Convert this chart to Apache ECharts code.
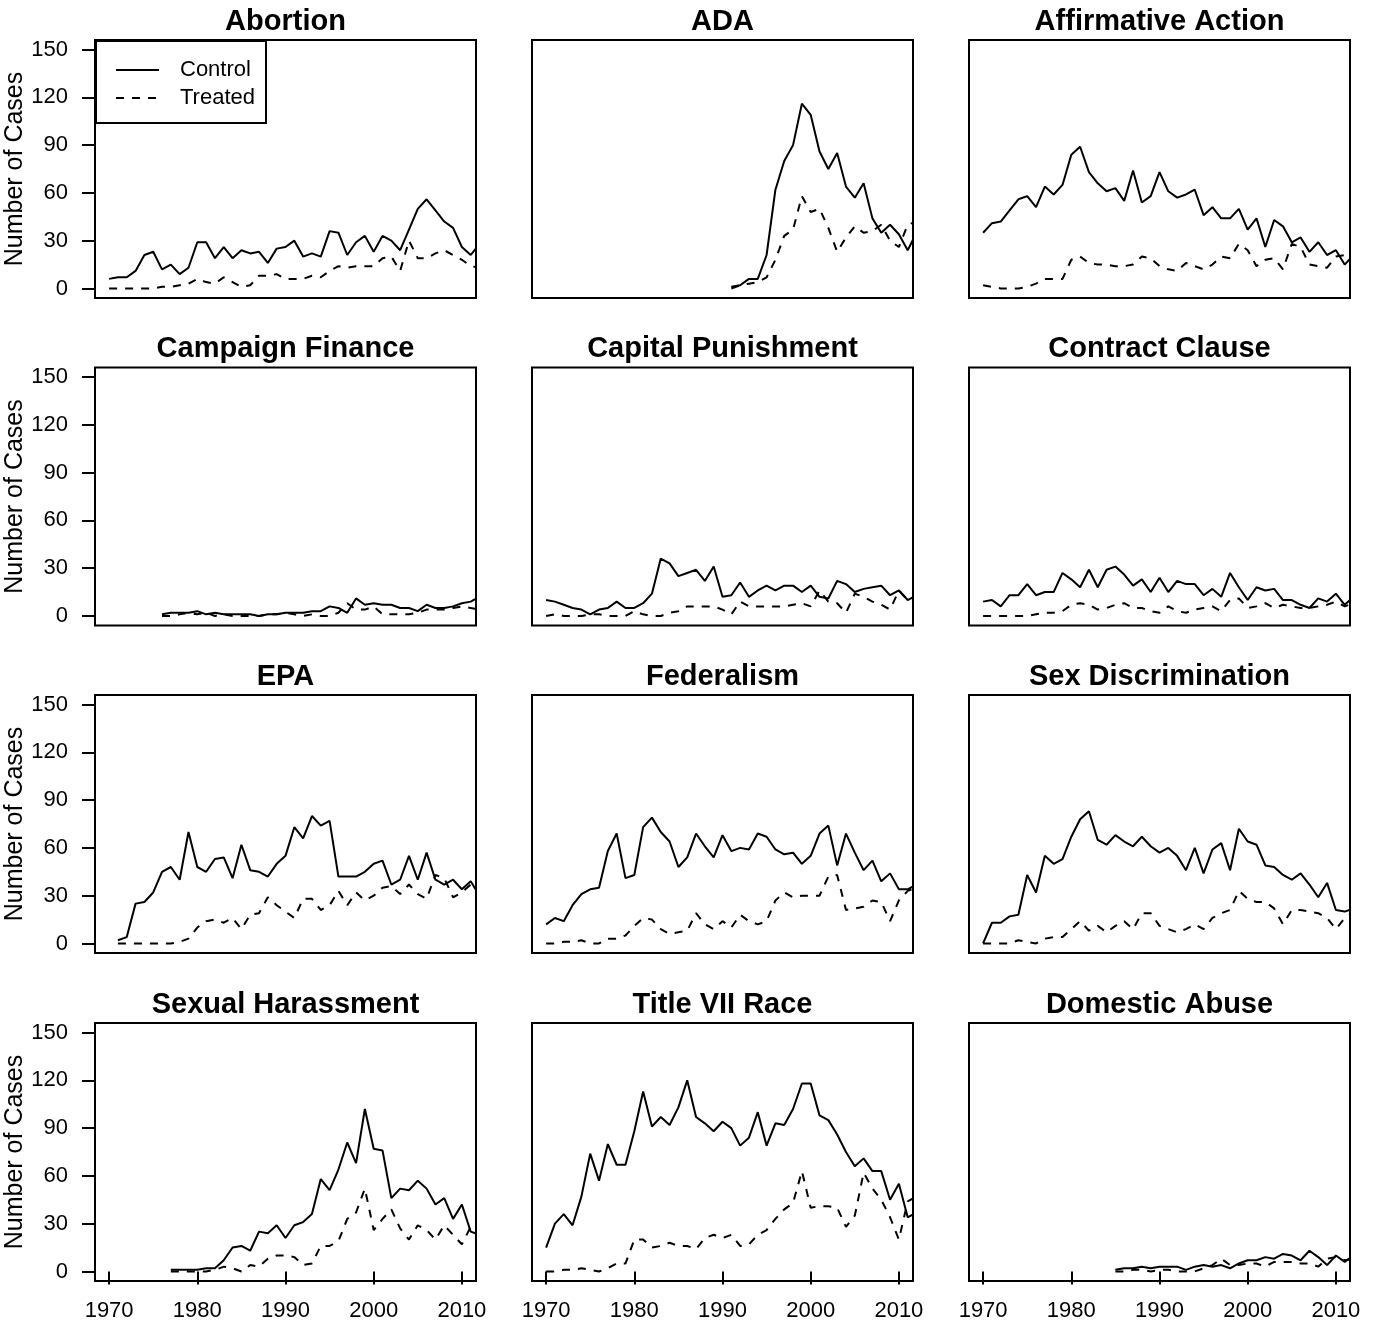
<!DOCTYPE html>
<html>
<head>
<meta charset="utf-8">
<script src="https://cdn.jsdelivr.net/npm/echarts@6/dist/echarts.min.js"></script>
<style>
  html, body { margin: 0; padding: 0; background: #fff; }
  #chart { width: 1378px; height: 1338px; }
</style>
</head>
<body>
<div id="chart"></div>
<script>
// Yearly case counts per issue area, control vs treated judges.
const abortionStart = 1970;
const abortionControl = [6,7,7,11,21,23,12,15,9,13, 29,29,19,26,19,24,22,23,16,25, 26,30,20,22,20,36,35,21,29,33, 23,33,30,24,37,50,56,49,42,38, 26,21,28];
const abortionTreated = [0,0,0,0,0,0,1,1,2,3, 6,4,3,7,4,1,2,8,8,9, 6,6,6,8,7,11,14,13,14,14, 14,19,20,11,30,19,19,22,24,21, 18,14,13];

const adaStart = 1991;
const adaControl = [1,2,6,6,21,62,80,90,116,109, 86,75,85,64,57,66,44,35,40,34, 24,35];
const adaTreated = [0,2,3,4,7,18,33,37,58,48, 50,38,23,32,39,35,36,40,30,26, 40,42];

const affirmativeStart = 1970;
const affirmativeControl = [35,41,42,49,56,58,51,64,59,65, 84,89,73,66,61,63,55,74,54,58, 73,61,57,59,62,46,51,44,44,50, 37,44,26,43,39,29,32,23,29,21, 24,15,21];
const affirmativeTreated = [2,1,0,0,0,1,3,6,6,6, 18,20,16,15,15,14,14,15,20,19, 14,12,11,16,14,12,15,20,19,28, 24,14,18,19,12,28,26,15,14,13, 20,21,23];

const campaignStart = 1976;
const campaignControl = [1,2,2,2, 3,1,2,1,1,1,1,0,1,1, 2,2,2,3,3,6,5,2,11,7, 8,7,7,5,5,3,7,5,5,6, 8,9,12];
const campaignTreated = [0,0,1,2, 1,2,0,1,0,0,0,0,1,1, 2,1,0,1,0,0,2,8,4,4, 6,1,1,1,1,2,4,4,4,5, 6,5,4];

const capitalStart = 1970;
const capitalControl = [10,9,7,5,4,1,4,5,9,5, 5,8,14,36,33,25,27,29,22,31, 12,13,21,12,16,19,16,19,19,15, 19,12,11,22,20,15,17,18,19,13, 16,10,13];
const capitalTreated = [0,1,0,0,0,1,1,0,0,0, 3,1,0,0,2,3,6,6,6,6, 4,1,9,6,6,6,6,6,7,8, 6,16,9,8,2,14,12,9,7,4, 16,10,10];

const contractStart = 1970;
const contractControl = [9,10,6,13,13,20,13,15,15,27, 23,18,29,18,29,31,26,19,23,15, 24,15,22,20,20,13,17,12,27,18, 10,18,16,17,10,10,7,5,11,9, 14,7,12];
const contractTreated = [0,0,0,0,0,0,1,2,2,3, 7,8,7,4,5,7,8,5,5,3, 2,6,3,2,4,5,6,3,10,11, 5,6,8,5,7,6,5,5,6,7, 9,6,8];

const epaStart = 1971;
const epaControl = [2,4,25,26,32,45,48,40,70, 48,45,53,54,41,62,46,45,42,50, 55,73,66,80,74,77,42,42,42,45, 50,52,37,40,55,40,57,40,37,40, 34,39,30];
const epaTreated = [0,0,0,0,0,0,0,1,3, 10,14,15,13,16,9,18,19,29,24, 20,16,28,28,21,24,33,24,32,27, 30,35,36,31,37,31,28,43,41,29, 32,37,37];

const federalismStart = 1970;
const federalismControl = [12,16,14,24,31,34,35,58,69,41, 43,73,79,70,64,48,54,69,61,54, 68,58,60,59,69,67,59,56,57,50, 55,69,74,49,69,57,46,52,39,44, 34,34,37];
const federalismTreated = [0,0,1,1,2,0,0,3,3,5, 11,16,15,9,6,7,8,19,12,9, 14,10,18,14,12,14,27,32,29,30, 30,30,42,43,21,22,23,27,26,14, 27,33,35];

const sexDiscStart = 1970;
const sexDiscControl = [0,13,13,17,18,43,32,55,50,53, 67,78,83,65,62,68,64,61,67,61, 57,60,55,46,60,44,59,63,46,72, 64,62,49,48,43,40,44,37,29,38, 21,20,22];
const sexDiscTreated = [0,0,0,0,2,1,0,3,4,4, 9,14,8,11,7,11,14,9,19,19, 11,9,7,9,12,9,16,19,21,33, 28,26,26,22,12,21,21,20,19,16, 9,16,20];

const harassmentStart = 1977;
const harassmentControl = [1,1,1, 1,2,2,7,15,16,13,25,24,29, 21,29,31,36,58,51,64,81,68,102, 77,76,46,52,51,57,52,42,46,33, 42,25,23];
const harassmentTreated = [0,0,0, 0,0,1,3,2,0,4,3,8,10, 10,9,4,5,16,16,19,33,37,52, 26,33,39,27,20,29,26,20,29,23, 17,28,24];

const raceStart = 1970;
const raceControl = [15,30,36,29,47,74,57,80,67,67, 88,113,91,97,92,103,120,97,93,88, 94,90,79,84,100,79,93,92,102,118, 118,98,95,86,75,66,71,63,63,45, 55,34,37];
const raceTreated = [0,0,1,1,2,1,0,2,5,5, 20,20,15,16,18,16,16,14,21,23, 21,23,16,17,23,26,33,39,43,63, 40,41,41,40,28,35,62,52,45,34, 20,44,47];

const domesticStart = 1985;
const domesticControl = [1,2,2,3,2, 3,3,3,1,3,4,3,4,2,5, 7,7,9,8,11,10,7,13,9,4, 10,6,10];
const domesticTreated = [0,0,1,1,0, 1,1,0,0,0,2,4,8,4,4, 5,5,3,6,6,6,5,5,3,8, 9,7,8];

const yearTicks = [1970, 1980, 1990, 2000, 2010];
const countTicks = [0, 30, 60, 90, 120, 150];

const panels = [
  { title: 'Abortion', start: abortionStart, control: abortionControl, treated: abortionTreated },
  { title: 'ADA', start: adaStart, control: adaControl, treated: adaTreated },
  { title: 'Affirmative Action', start: affirmativeStart, control: affirmativeControl, treated: affirmativeTreated },
  { title: 'Campaign Finance', start: campaignStart, control: campaignControl, treated: campaignTreated },
  { title: 'Capital Punishment', start: capitalStart, control: capitalControl, treated: capitalTreated },
  { title: 'Contract Clause', start: contractStart, control: contractControl, treated: contractTreated },
  { title: 'EPA', start: epaStart, control: epaControl, treated: epaTreated },
  { title: 'Federalism', start: federalismStart, control: federalismControl, treated: federalismTreated },
  { title: 'Sex Discrimination', start: sexDiscStart, control: sexDiscControl, treated: sexDiscTreated },
  { title: 'Sexual Harassment', start: harassmentStart, control: harassmentControl, treated: harassmentTreated },
  { title: 'Title VII Race', start: raceStart, control: raceControl, treated: raceTreated },
  { title: 'Domestic Abuse', start: domesticStart, control: domesticControl, treated: domesticTreated }
];

// Panel layout: 4 rows x 3 columns
const colLeft = [95, 532, 969];
const rowTop = [40, 367.5, 695, 1023];
const panelW = 381;
const panelH = 258;
const FONT = 'Liberation Sans, Arial, Helvetica, sans-serif';

const toPairs = (start, values) => values.map((v, i) => [start + i, v]);

const grids = [], xAxes = [], yAxes = [], series = [], titles = [];

panels.forEach((p, k) => {
  const row = Math.floor(k / 3), col = k % 3;
  const left = colLeft[col], top = rowTop[row];
  const bottomRow = row === 3, firstCol = col === 0;

  grids.push({
    left: left, top: top, width: panelW, height: panelH,
    show: true, borderColor: '#000', borderWidth: 2, backgroundColor: 'transparent'
  });

  xAxes.push({
    type: 'value', gridIndex: k, min: 1968.4, max: 2011.6,
    axisLine: { show: false },
    splitLine: { show: false },
    axisTick: { show: bottomRow, customValues: yearTicks, length: 13, inside: false,
                lineStyle: { color: '#000', width: 2 } },
    axisLabel: { show: bottomRow, customValues: yearTicks, margin: 19,
                 formatter: (v) => String(v),
                 color: '#000', fontSize: 22, fontFamily: FONT }
  });

  yAxes.push({
    type: 'value', gridIndex: k, min: -6, max: 156,
    axisLine: { show: false },
    splitLine: { show: false },
    axisTick: { show: firstCol, customValues: countTicks, length: 13, inside: false,
                lineStyle: { color: '#000', width: 2 } },
    axisLabel: { show: firstCol, customValues: countTicks, margin: 27,
                 formatter: (v) => String(v),
                 color: '#000', fontSize: 22, fontFamily: FONT },
    name: firstCol ? 'Number of Cases' : '',
    nameLocation: 'middle', nameGap: 54, nameRotate: 90,
    nameTextStyle: { color: '#000', fontSize: 25, fontFamily: FONT }
  });

  series.push({
    name: 'Control', type: 'line', xAxisIndex: k, yAxisIndex: k,
    data: toPairs(p.start, p.control),
    symbol: 'none', showSymbol: false, clip: true, silent: true,
    itemStyle: { color: '#000' },
    lineStyle: { color: '#000', width: 2, type: 'solid' }
  });
  series.push({
    name: 'Treated', type: 'line', xAxisIndex: k, yAxisIndex: k,
    data: toPairs(p.start, p.treated),
    symbol: 'none', showSymbol: false, clip: true, silent: true,
    itemStyle: { color: '#000' },
    lineStyle: { color: '#000', width: 2, type: [8, 8] }
  });

  titles.push({
    text: p.title, left: left + panelW / 2, top: top - 33, textAlign: 'center', padding: 0,
    textStyle: { color: '#000', fontSize: 29, fontWeight: 'bold', fontFamily: FONT }
  });
});

const chart = echarts.init(document.getElementById('chart'), null, { renderer: 'canvas' });
chart.setOption({
  backgroundColor: '#fff',
  animation: false,
  title: titles,
  legend: {
    data: ['Control', 'Treated'],
    orient: 'vertical', left: 96, top: 41,
    backgroundColor: '#fff',
    borderColor: '#000', borderWidth: 2, borderRadius: 0,
    padding: [18, 11, 14, 19],
    itemWidth: 43, itemHeight: 20, itemGap: 6,
    selectedMode: false,
    itemStyle: { opacity: 0, borderWidth: 0 },
    lineStyle: { width: 2 },
    textStyle: { color: '#000', fontSize: 22, fontFamily: FONT, padding: [0, 0, 0, 16] }
  },
  grid: grids,
  xAxis: xAxes,
  yAxis: yAxes,
  series: series
});
</script>
</body>
</html>
